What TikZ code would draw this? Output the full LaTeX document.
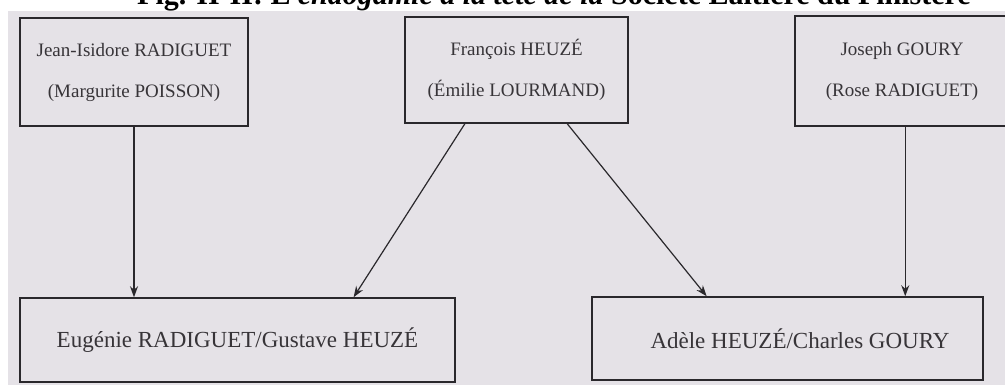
\documentclass[tikz,border=0pt]{standalone}
\usepackage{fontspec}
\setmainfont{Liberation Serif}
\usetikzlibrary{arrows.meta,calc}
\definecolor{paper}{RGB}{229,226,231}
\definecolor{ink}{RGB}{42,40,44}
\definecolor{txt}{RGB}{55,52,56}
\tikzset{
  box/.style={draw=ink, line width=1.5pt, rectangle, inner sep=0pt, text=txt, align=center},
  topbox/.style={box, font=\fontsize{19}{41}\selectfont},
  botbox/.style={box, font=\fontsize{23}{27}\selectfont},
  arr/.style={draw=ink, line width=1.2pt, -{Stealth[length=11pt,width=8pt]}}
}
\begin{document}
\begin{tikzpicture}[x=1pt,y=-1pt]
\useasboundingbox (0,0) rectangle (1005,385);
\clip (0,0) rectangle (1005,385);
\fill[white] (0,0) rectangle (1005,385);
\fill[paper] (8,11) rectangle (1005,385);
\node[anchor=base, font=\fontsize{30}{34}\selectfont\bfseries, text=black] (title) at (554,5)
  {Fig. II-II: L'\textit{endogamie à la tête de la} Société Laitière du Finistère};
\node[topbox, minimum width=228pt, minimum height=108pt] (b1) at (134,72)
  {Jean-Isidore RADIGUET\\(Margurite POISSON)};
\node[topbox, minimum width=223pt, minimum height=106pt] (b2) at (516.5,70)
  {François HEUZÉ\\(Émilie LOURMAND)};
\node[topbox, minimum width=214pt, minimum height=110pt] (b3) at (902,71)
  {Joseph GOURY\\(Rose RADIGUET)};
\node[botbox, minimum width=435pt, minimum height=84pt] (b4) at (237.5,340)
  {Eugénie RADIGUET/Gustave HEUZÉ};
\node[botbox, minimum width=391pt, minimum height=83pt] (b5) at (787.5,338.5)
  {\hspace*{25pt}Adèle HEUZÉ/Charles GOURY};
\coordinate (s2l) at ($(b2.south west)!0.27!(b2.south east)$);
\coordinate (s2r) at ($(b2.south west)!0.726!(b2.south east)$);
\coordinate (t4r) at ($(b4.north west)!0.766!(b4.north east)$);
\coordinate (t5l) at ($(b5.north west)!0.294!(b5.north east)$);
\coordinate (t5r) at ($(b5.north west)!0.80!(b5.north east)$);
\coordinate (t4l) at (b4.north -| b1.south);
\draw[arr] (b1.south) -- (t4l);
\draw[arr] (s2l) -- (t4r);
\draw[arr] (s2r) -- (t5l);
\draw[arr] (b3.south -| t5r) -- (t5r);
\end{tikzpicture}
\end{document}
